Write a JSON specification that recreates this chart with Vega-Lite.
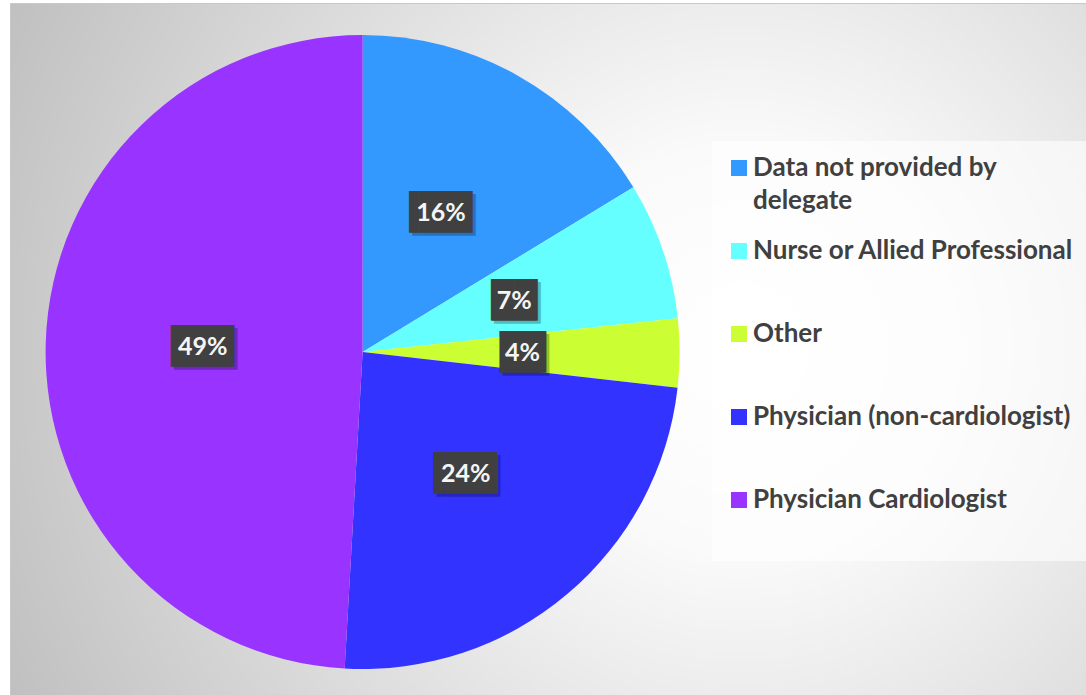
{
  "$schema": "https://vega.github.io/schema/vega-lite/v6.json",
  "width": 1086,
  "height": 695,
  "autosize": {"type": "fit", "contains": "padding"},
  "padding": {"left": 10, "top": 3, "right": 0, "bottom": 0},
  "background": "#ffffff",
  "view": {
    "stroke": "#c8c8c8",
    "strokeWidth": 1,
    "fill": {
      "gradient": "radial",
      "x1": 0.68, "y1": 0.5, "r1": 0,
      "x2": 0.68, "y2": 0.5, "r2": 0.75,
      "stops": [
        {"offset": 0, "color": "#ffffff"},
        {"offset": 0.25, "color": "#fafafa"},
        {"offset": 1, "color": "#c0c0c0"}
      ]
    }
  },
  "data": {
    "values": [
      {"category": "Data not provided by delegate", "value": 16.3, "label": "16%"},
      {"category": "Nurse or Allied Professional", "value": 7.0, "label": "7%"},
      {"category": "Other", "value": 3.5, "label": "4%"},
      {"category": "Physician (non-cardiologist)", "value": 24.1, "label": "24%"},
      {"category": "Physician Cardiologist", "value": 49.1, "label": "49%"}
    ]
  },
  "layer": [
    {
      "mark": {"type": "arc", "outerRadius": 317, "x": {"expr": "width*0.3277"}, "y": {"expr": "height*0.5+3"}, "strokeWidth": 0},
      "encoding": {
        "theta": {"field": "value", "type": "quantitative", "stack": true},
        "order": {"field": "category", "sort": "ascending"},
        "color": {
          "field": "category",
          "type": "nominal",
          "scale": {
            "domain": ["Data not provided by delegate", "Nurse or Allied Professional", "Other", "Physician (non-cardiologist)", "Physician Cardiologist"],
            "range": ["#3399ff", "#66ffff", "#ccff33", "#3333ff", "#9933ff"]
          },
          "legend": {
            "title": " ",
            "titleOrient": "bottom",
            "titleFontSize": 12,
            "titlePadding": 23,
            "orient": "none",
            "legendX": 702,
            "legendY": 138,
            "padding": 14,
            "fillColor": "rgba(255,255,255,0.6)",
            "symbolType": "square",
            "symbolSize": 256,
            "symbolStrokeWidth": 0,
            "symbolOffset": 0,
            "labelFont": "Lato",
            "labelFontSize": 26,
            "labelFontWeight": "bold",
            "labelColor": "#404040",
            "labelLimit": 500,
            "labelOffset": 1,
            "rowPadding": 24,
            "gridAlign": "all",
            "labelExpr": "datum.label == 'Data not provided by delegate' ? ['Data not provided by', 'delegate'] : datum.label"
          }
        }
      }
    },
    {
      "mark": {"type": "text", "radius": 160, "x": {"expr": "width*0.3277"}, "y": {"expr": "height*0.5+3"}, "font": "DejaVu Sans Mono", "fontSize": 35, "baseline": "middle", "align": "center", "color": "#000000", "opacity": 0.25, "dx": 3, "dy": 3},
      "encoding": {
        "theta": {"field": "value", "type": "quantitative", "stack": true},
        "order": {"field": "category", "sort": "ascending"},
        "detail": {"field": "category"},
        "text": {"condition": {"test": "length(datum.label) > 2", "value": "▐██▌"}, "value": "▕██▏"}
      }
    },
    {
      "mark": {"type": "text", "radius": 160, "x": {"expr": "width*0.3277"}, "y": {"expr": "height*0.5+3"}, "font": "DejaVu Sans Mono", "fontSize": 35, "baseline": "middle", "align": "center", "color": "#404040"},
      "encoding": {
        "theta": {"field": "value", "type": "quantitative", "stack": true},
        "order": {"field": "category", "sort": "ascending"},
        "detail": {"field": "category"},
        "text": {"condition": {"test": "length(datum.label) > 2", "value": "▐██▌"}, "value": "▕██▏"}
      }
    },
    {
      "mark": {"type": "text", "radius": 160, "x": {"expr": "width*0.3277"}, "y": {"expr": "height*0.5+3"}, "font": "Lato", "fontSize": 25, "fontWeight": "bold", "baseline": "middle", "align": "center", "color": "#f5f5f5"},
      "encoding": {
        "theta": {"field": "value", "type": "quantitative", "stack": true},
        "order": {"field": "category", "sort": "ascending"},
        "detail": {"field": "category"},
        "text": {"field": "label"}
      }
    }
  ],
  "config": {
    "style": {"guide-label": {"lineHeight": 33}}
  }
}
